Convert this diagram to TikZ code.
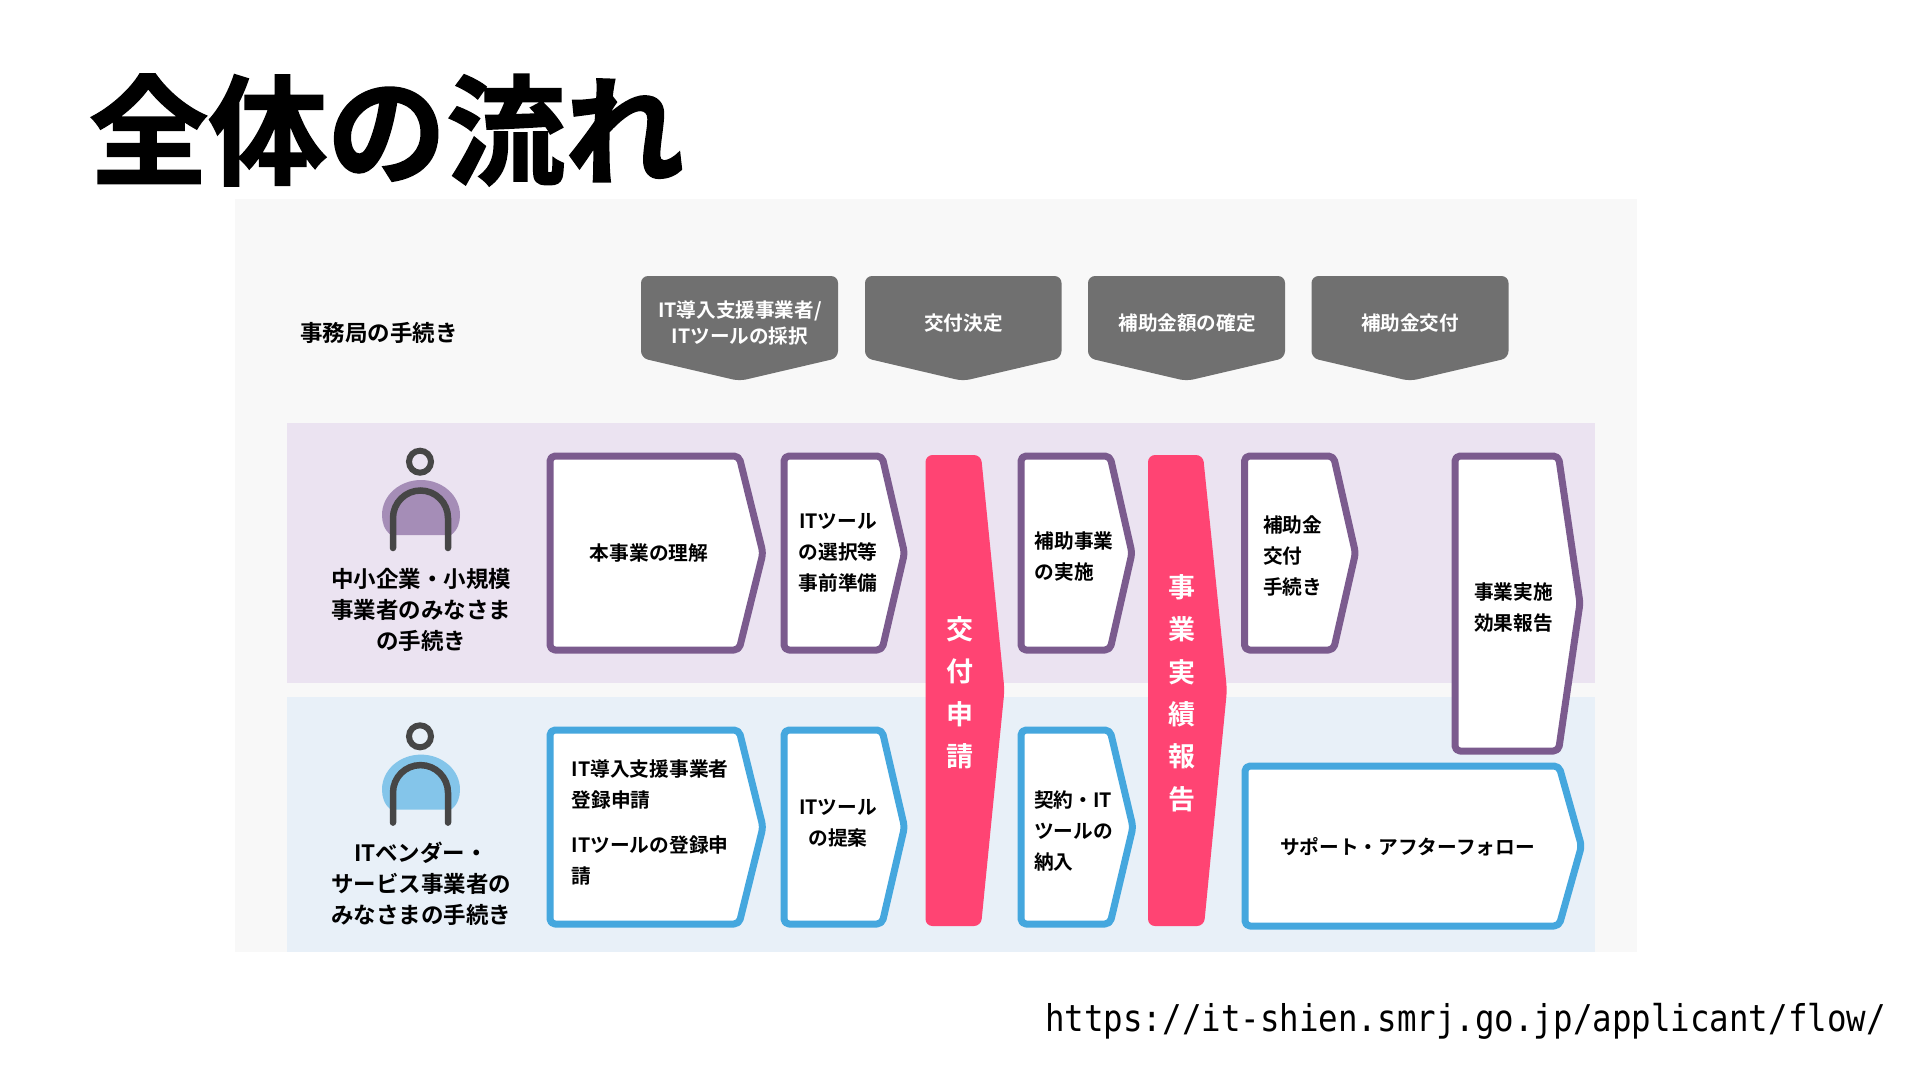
\documentclass[tikz,border=0pt]{standalone}
\usepackage{fontspec}
\setmainfont{Noto Sans CJK JP}[BoldFont={* Bold}]
\newfontfamily\titlefont{Noto Sans CJK JP Bold}[FakeBold=1.6]
\newfontfamily\urlfont{DejaVu Sans Mono}[FakeStretch=0.88]
\definecolor{panelc}{HTML}{F8F8F8}
\definecolor{bandp}{HTML}{EBE3F1}
\definecolor{bandb}{HTML}{E8F0F8}
\definecolor{strokep}{HTML}{7B5B8E}
\definecolor{strokeb}{HTML}{45A7DE}
\definecolor{pinkc}{HTML}{FF4473}
\definecolor{greyc}{HTML}{707070}
\definecolor{iconc}{HTML}{464646}
\definecolor{blobp}{HTML}{A58DB7}
\definecolor{blobb}{HTML}{84C5EA}
\tikzset{
  boxp/.style={draw=strokep,line width=7pt,fill=white,rounded corners=5pt,line join=round},
  boxb/.style={draw=strokeb,line width=7pt,fill=white,rounded corners=5pt,line join=round},
  greyshape/.style={fill=greyc,rounded corners=7pt},
  pinkshape/.style={fill=pinkc,rounded corners=7pt},
  lbl/.style={inner sep=0pt,font=\bfseries\fontsize{19.7}{31}\selectfont,align=left,anchor=west,text=black},
  lblc/.style={lbl,align=center,anchor=center},
  grey lbl/.style={inner sep=0pt,font=\bfseries\fontsize{19.6}{26}\selectfont,align=center,text=white},
  side lbl/.style={inner sep=0pt,font=\bfseries\fontsize{22.5}{31}\selectfont,align=center,text=black},
  pink lbl/.style={inner sep=0pt,font=\bfseries\fontsize{27}{42.4}\selectfont,align=center,text=white},
  iconline/.style={draw=iconc,line width=6.5pt,line cap=round},
}
\begin{document}
\begin{tikzpicture}[x=1pt,y=-1pt]
\useasboundingbox (0,0) rectangle (1920,1080);
\fill[white] (0,0) rectangle (1920,1080);
% panel and bands
\fill[panelc] (235,199) rectangle (1637,951.5);
\fill[bandp] (287,423) rectangle (1595,683);
\fill[bandb] (287,697) rectangle (1595,951.5);
% title and source
\node[inner sep=0pt,anchor=west,font=\titlefont\fontsize{119}{130}\selectfont] (title) at (89,130) {全体の流れ};
\node[inner sep=0pt,anchor=base west,font=\urlfont\fontsize{36.9}{40}\selectfont] (source) at (1045,1031.5) {https://it-shien.smrj.go.jp/applicant/flow/};
% secretariat row
\node[side lbl,anchor=west] (office) at (300,333) {事務局の手続き};
\fill[greyshape] (641,276) -- (838,276) -- (838,358) -- (739.5,381) -- (641,358) -- cycle;
\fill[greyshape] (865,276) -- (1061.5,276) -- (1061.5,358) -- (963,381) -- (865,358) -- cycle;
\fill[greyshape] (1088,276) -- (1285,276) -- (1285,358) -- (1186.5,381) -- (1088,358) -- cycle;
\fill[greyshape] (1311.5,276) -- (1508.5,276) -- (1508.5,358) -- (1410,381) -- (1311.5,358) -- cycle;
\node[grey lbl] (g1) at (740,323) {IT導入支援事業者/\\ITツールの採択};
\node[grey lbl] (g2) at (963.5,323) {交付決定};
\node[grey lbl] (g3) at (1187,323) {補助金額の確定};
\node[grey lbl] (g4) at (1410,323) {補助金交付};
% purple icon
\fill[blobp] (391,535) .. controls (384,530) and (382,522) .. (382,515) .. controls (382,495) and (400,480) .. (421,480) .. controls (442,480) and (460,495) .. (460,515) .. controls (460,522) and (458,530) .. (451,535) -- cycle;
\draw[iconline] (393,548) -- (393,518) arc[start angle=180,end angle=0,x radius=27.5,y radius=-27.5] -- (448,548);
\draw[iconc,line width=6pt] (420,461.7) circle[radius=11];
\node[side lbl] (pside) at (421,609.5) {中小企業・小規模\\事業者のみなさま\\の手続き};
% blue icon
\fill[blobb] (391,809.6) .. controls (384,804.6) and (382,796.6) .. (382,789.6) .. controls (382,769.6) and (400,754.6) .. (421,754.6) .. controls (442,754.6) and (460,769.6) .. (460,789.6) .. controls (460,796.6) and (458,804.6) .. (451,809.6) -- cycle;
\draw[iconline] (393,822.6) -- (393,792.6) arc[start angle=180,end angle=0,x radius=27.5,y radius=-27.5] -- (448,822.6);
\draw[iconc,line width=6pt] (420,736.3) circle[radius=11];
\node[side lbl] (bside) at (421,884) {ITベンダー・\\サービス事業者の\\みなさまの手続き};
% purple boxes
\draw[boxp] (550,456) -- (739,456) -- (763,553) -- (739,650) -- (550,650) -- cycle;
\draw[boxp] (784,456) -- (882,456) -- (904.5,553) -- (882,650) -- (784,650) -- cycle;
\draw[boxp] (1021,456) -- (1110,456) -- (1132,553) -- (1110,650) -- (1021,650) -- cycle;
\draw[boxp] (1244.5,456) -- (1333.5,456) -- (1355.5,553) -- (1333.5,650) -- (1244.5,650) -- cycle;
\draw[boxp] (1455,456) -- (1558.5,456) -- (1580,603) -- (1558.5,751) -- (1455,751) -- cycle;
\node[lblc] (p1) at (649,553) {本事業の理解};
\node[lblc] (p2) at (838,553) {ITツール\\の選択等\\事前準備};
\node[lbl] (p3) at (1034.5,556.5) {補助事業\\の実施};
\node[lbl] (p4) at (1263,556) {補助金\\交付\\手続き};
\node[lbl] (p5) at (1474,607.5) {事業実施\\効果報告};
% blue boxes
\draw[boxb] (550,730) -- (739,730) -- (763,827) -- (739,924) -- (550,924) -- cycle;
\draw[boxb] (784,730) -- (882,730) -- (904.5,827) -- (882,924) -- (784,924) -- cycle;
\draw[boxb] (1021,730) -- (1110,730) -- (1133,827) -- (1110,924) -- (1021,924) -- cycle;
\draw[boxb] (1245,766) -- (1559,766) -- (1581.5,846) -- (1559,926) -- (1245,926) -- cycle;
\node[lbl] (b1) at (571.5,822.5) {IT導入支援事業者\\登録申請\\[14pt]ITツールの登録申\\請};
\node[lblc] (b2) at (838,823) {ITツール\\の提案};
\node[lbl] (b3) at (1034,831) {契約・IT\\ツールの\\納入};
\node[lblc] (b4) at (1407.5,847) {サポート・アフターフォロー};
% pink bars
\fill[pinkshape] (925.5,455) -- (981,455) -- (1004.5,690) -- (981,926) -- (925.5,926) -- cycle;
\fill[pinkshape] (1148,455) -- (1203,455) -- (1227,690) -- (1204,926) -- (1148,926) -- cycle;
\node[pink lbl] (s1) at (959.6,692.5) {交\\付\\申\\請};
\node[pink lbl] (s2) at (1181.7,693) {事\\業\\実\\績\\報\\告};
\end{tikzpicture}
\end{document}
